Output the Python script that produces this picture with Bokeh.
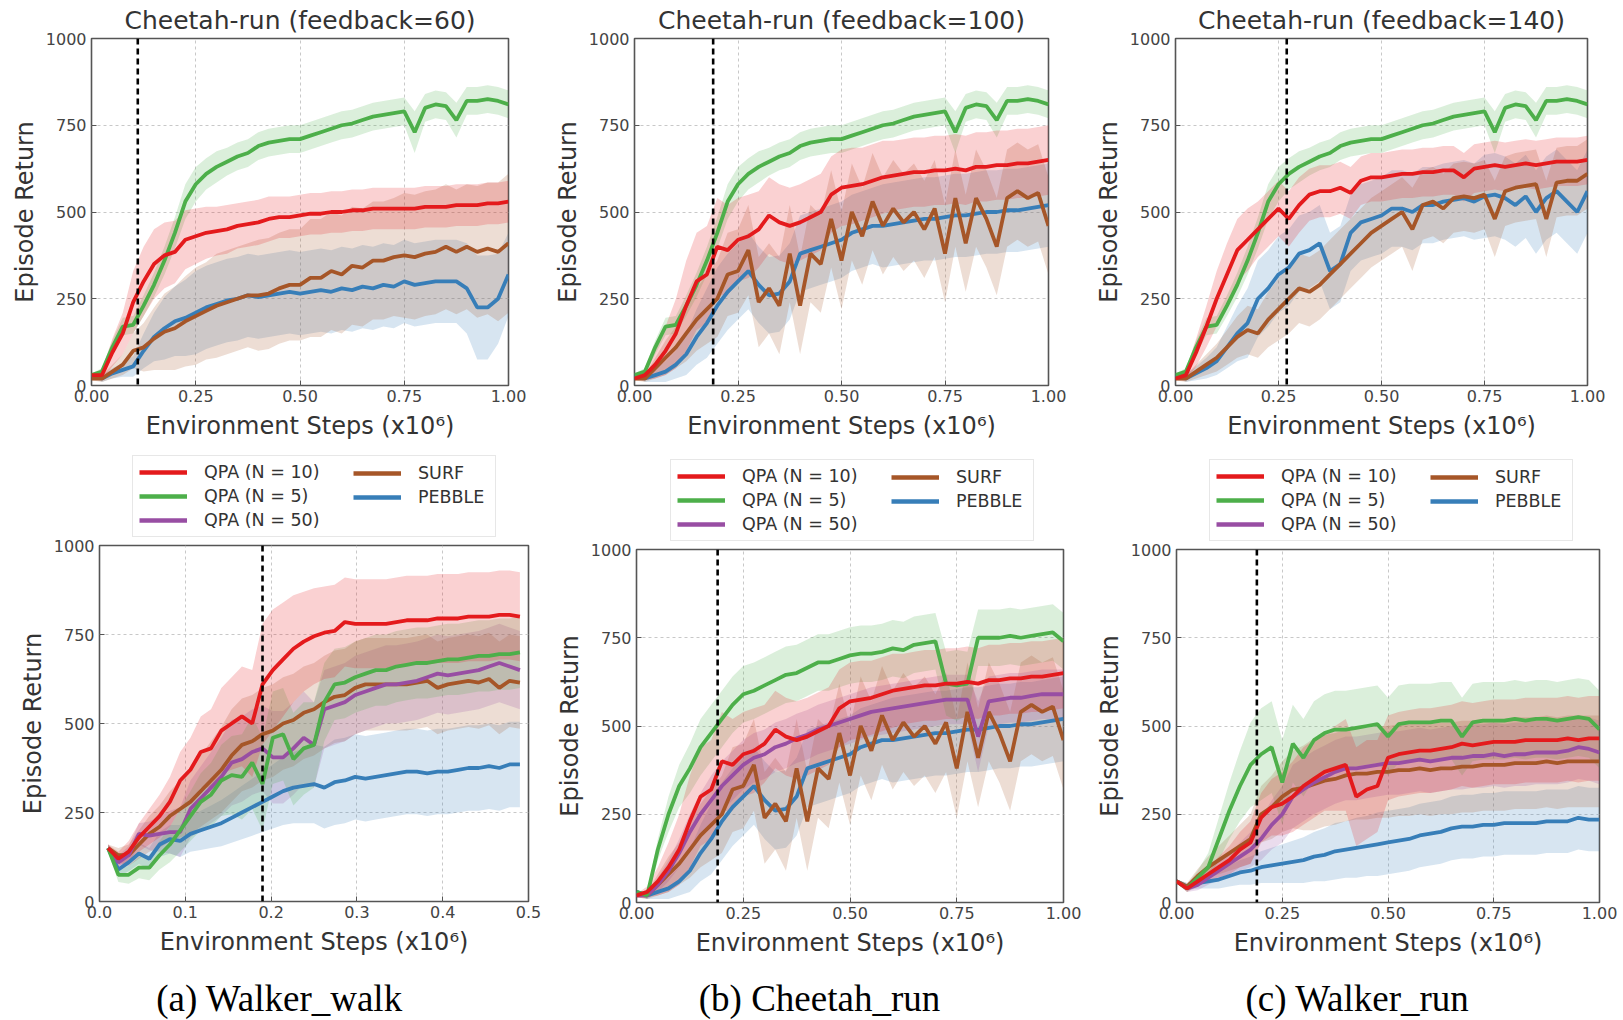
import numpy as np
from bokeh.plotting import figure
from bokeh.models import Span, Legend, LegendItem, Label, Range1d, FixedTicker, NumeralTickFormatter
from bokeh.layouts import column, row
from bokeh.embed import file_html
from bokeh.resources import INLINE

# ---------------- data ----------------
X_STEPS = [0.0, 0.025, 0.05, 0.075, 0.1, 0.125, 0.15, 0.175, 0.2, 0.225, 0.25, 0.275, 0.3, 0.325,
           0.35, 0.375, 0.4, 0.425, 0.45, 0.475, 0.5, 0.525, 0.55, 0.575, 0.6, 0.625, 0.65, 0.675,
           0.7, 0.725, 0.75, 0.775, 0.8, 0.825, 0.85, 0.875, 0.9, 0.925, 0.95, 0.975, 1.0]
X_WALK = [0.010, 0.022, 0.034, 0.046, 0.058, 0.070, 0.082, 0.094, 0.106, 0.118, 0.130, 0.142,
          0.154, 0.166, 0.178, 0.190, 0.202, 0.214, 0.226, 0.238, 0.250, 0.262, 0.274, 0.286,
          0.298, 0.310, 0.322, 0.334, 0.346, 0.358, 0.370, 0.382, 0.394, 0.406, 0.418, 0.430,
          0.442, 0.454, 0.466, 0.478, 0.490]

# Cheetah-run, QPA (N=5) (same in the three feedback panels)
CH_GREEN = [30, 40, 110, 170, 175, 230, 290, 360, 440, 530, 580, 610, 630, 645, 660, 670, 690, 700, 705, 710,
            710, 720, 730, 740, 750, 755, 765, 775, 780, 785, 790, 730, 800, 810, 805, 765, 820, 820, 825, 820, 810]
CH_GREEN_SD = [5, 10, 20, 25, 25, 30, 35, 40, 45, 50, 50, 45, 45, 40, 40, 40, 40, 40, 40, 40,
               40, 40, 40, 40, 40, 40, 40, 40, 40, 40, 40, 60, 40, 40, 40, 50, 40, 40, 40, 40, 40]
# feedback = 60
C60_RED = [30, 30, 95, 150, 240, 300, 350, 375, 385, 420, 430, 440, 445, 450, 460, 465, 470, 480, 485, 485,
           490, 495, 495, 500, 500, 505, 505, 510, 510, 510, 510, 510, 515, 515, 515, 520, 520, 520, 525, 525, 530]
C60_RED_SD = [5, 15, 40, 60, 90, 100, 100, 95, 90, 85, 80, 75, 70, 70, 65, 65, 65, 65, 60, 60,
              60, 60, 60, 60, 60, 60, 60, 60, 60, 60, 60, 60, 60, 60, 60, 60, 60, 60, 60, 60, 60]
C60_SURF = [20, 20, 40, 60, 100, 110, 135, 155, 165, 185, 200, 215, 230, 240, 250, 260, 260, 265, 280, 290,
            290, 310, 310, 330, 320, 345, 340, 360, 360, 370, 375, 370, 380, 385, 400, 385, 400, 385, 395, 385, 410]
C60_SURF_SD = [5, 10, 20, 30, 50, 70, 90, 110, 120, 130, 140, 140, 150, 150, 150, 150, 160, 160, 160, 160,
               160, 170, 170, 170, 170, 170, 170, 170, 170, 170, 180, 180, 180, 180, 180, 180, 180, 190, 190, 200, 200]
C60_PEBBLE = [30, 20, 35, 45, 55, 100, 140, 165, 185, 195, 210, 225, 235, 245, 250, 260, 255, 260, 265, 270,
              265, 270, 275, 270, 280, 275, 285, 280, 290, 285, 300, 290, 295, 300, 300, 300, 280, 225, 225, 250, 320]
C60_PEBBLE_SD = [5, 10, 15, 20, 30, 50, 70, 90, 100, 110, 120, 120, 120, 120, 120, 120, 120, 120, 120, 120,
                 120, 120, 120, 120, 120, 120, 120, 120, 120, 120, 120, 120, 120, 120, 120, 120, 130, 150, 150, 130, 120]
# feedback = 100
C100_RED = [20, 30, 60, 100, 150, 230, 300, 320, 400, 390, 420, 430, 450, 490, 470, 460, 470, 485, 500, 550,
            570, 575, 580, 590, 600, 605, 610, 615, 615, 620, 620, 625, 620, 630, 630, 635, 635, 640, 640, 645, 650]
C100_RED_SD = [5, 15, 40, 70, 100, 130, 140, 140, 140, 130, 120, 120, 110, 110, 110, 110, 110, 110, 110, 110,
               110, 110, 105, 105, 105, 100, 100, 100, 100, 100, 100, 100, 100, 100, 100, 100, 100, 100, 100, 100, 100]
C100_SURF = [20, 20, 50, 80, 110, 150, 190, 220, 250, 320, 330, 390, 240, 280, 230, 380, 230, 380, 350, 480,
             360, 500, 430, 530, 460, 510, 470, 500, 450, 510, 380, 540, 410, 540, 480, 400, 540, 560, 540, 555, 460]
C100_SURF_SD = [5, 10, 30, 50, 60, 80, 90, 100, 110, 120, 120, 130, 130, 130, 140, 140, 140, 140, 140, 140,
                140, 140, 140, 140, 140, 140, 140, 140, 140, 140, 140, 140, 140, 140, 140, 140, 140, 140, 140, 140, 140]
C100_PEBBLE = [30, 20, 30, 40, 60, 90, 140, 180, 230, 270, 300, 330, 290, 260, 265, 300, 380, 390, 400, 410,
               420, 440, 450, 460, 460, 465, 470, 475, 480, 480, 485, 490, 490, 495, 500, 500, 505, 505, 510, 515, 520]
C100_PEBBLE_SD = [5, 10, 20, 30, 40, 60, 80, 100, 110, 110, 110, 110, 110, 110, 110, 110, 110, 110, 110, 110,
                  110, 110, 110, 110, 120, 120, 120, 120, 120, 120, 120, 120, 120, 120, 120, 120, 120, 120, 120, 120, 120]
# feedback = 140
C140_RED = [20, 30, 95, 170, 250, 320, 390, 420, 450, 480, 510, 480, 520, 550, 560, 560, 570, 555, 590, 600,
            600, 605, 610, 610, 615, 615, 620, 620, 600, 625, 630, 635, 630, 635, 640, 635, 640, 645, 645, 645, 650]
C140_RED_SD = [5, 15, 40, 60, 80, 90, 90, 90, 80, 80, 80, 80, 80, 75, 75, 75, 75, 75, 70, 70,
               70, 70, 70, 70, 70, 70, 70, 70, 70, 70, 70, 70, 70, 70, 70, 70, 70, 70, 70, 70, 70]
C140_SURF = [20, 20, 40, 60, 80, 110, 140, 160, 150, 190, 220, 250, 280, 270, 290, 320, 350, 380, 410, 440,
             460, 480, 500, 450, 520, 530, 510, 540, 545, 540, 550, 480, 560, 570, 575, 580, 480, 585, 590, 590, 610]
C140_SURF_SD = [5, 10, 20, 30, 40, 50, 60, 70, 70, 80, 90, 100, 100, 100, 100, 100, 100, 100, 100, 100,
                100, 100, 100, 120, 100, 100, 100, 100, 100, 100, 100, 110, 100, 100, 100, 100, 110, 100, 100, 100, 100]
C140_PEBBLE = [30, 20, 35, 50, 70, 110, 150, 180, 250, 280, 320, 340, 380, 390, 410, 330, 350, 440, 470, 480,
               490, 510, 510, 500, 520, 520, 530, 535, 540, 530, 545, 550, 540, 520, 545, 500, 540, 560, 530, 500, 560]
C140_PEBBLE_SD = [5, 10, 20, 30, 40, 60, 80, 100, 110, 110, 110, 110, 110, 110, 110, 110, 110, 110, 110, 110,
                  110, 110, 110, 110, 110, 110, 110, 110, 110, 110, 120, 120, 120, 120, 120, 120, 120, 120, 120, 120, 120]

# Walker_walk
WW_RED = [150, 120, 140, 180, 210, 240, 280, 340, 370, 420, 430, 480, 500, 520, 500, 610, 650, 680, 710, 730,
          745, 755, 760, 785, 780, 780, 780, 780, 785, 790, 790, 790, 795, 795, 795, 800, 800, 800, 805, 805, 800]
WW_RED_SD = [10, 20, 30, 40, 50, 60, 70, 80, 90, 100, 110, 120, 130, 140, 150, 170, 170, 160, 150, 140,
             135, 130, 130, 125, 125, 125, 125, 125, 125, 125, 125, 125, 125, 125, 125, 125, 125, 125, 125, 125, 125]
WW_GREEN = [150, 75, 75, 95, 95, 130, 160, 200, 240, 280, 300, 340, 355, 350, 390, 330, 460, 470, 400, 430,
            440, 560, 610, 615, 630, 640, 650, 650, 660, 665, 670, 670, 675, 680, 680, 685, 690, 690, 695, 695, 700]
WW_GREEN_SD = [10, 20, 25, 30, 35, 40, 50, 60, 70, 80, 90, 100, 110, 120, 130, 130, 130, 130, 130, 130,
               120, 110, 100, 100, 100, 100, 100, 100, 100, 100, 100, 100, 100, 100, 100, 100, 100, 100, 100, 100, 100]
WW_PURPLE = [150, 110, 130, 190, 185, 190, 195, 195, 260, 290, 320, 350, 390, 400, 420, 430, 405, 405, 430, 460,
             440, 540, 550, 560, 580, 590, 600, 610, 610, 615, 620, 630, 640, 635, 640, 645, 650, 660, 670, 660, 650]
WW_PURPLE_SD = [10, 20, 25, 30, 40, 50, 60, 70, 80, 90, 100, 110, 120, 120, 120, 120, 130, 130, 130, 130,
                120, 110, 110, 110, 110, 110, 110, 110, 110, 110, 110, 110, 110, 110, 110, 110, 110, 110, 110, 110, 110]
WW_SURF = [150, 130, 130, 160, 190, 210, 240, 260, 280, 310, 340, 370, 410, 440, 450, 470, 480, 500, 510, 530,
           540, 560, 575, 580, 600, 610, 610, 610, 610, 610, 615, 620, 600, 610, 615, 620, 615, 625, 600, 620, 615]
WW_SURF_SD = [10, 20, 30, 40, 50, 60, 70, 80, 90, 100, 110, 120, 130, 130, 130, 130, 130, 130, 130, 130,
              130, 130, 130, 130, 130, 130, 130, 130, 130, 130, 130, 130, 130, 130, 130, 130, 130, 130, 130, 130, 130]
WW_PEBBLE = [150, 90, 110, 135, 120, 160, 175, 170, 190, 200, 210, 220, 235, 250, 265, 280, 295, 310, 320, 325,
             330, 320, 335, 340, 350, 345, 350, 355, 360, 365, 365, 360, 365, 365, 370, 375, 375, 380, 375, 385, 385]
WW_PEBBLE_SD = [10, 20, 25, 30, 30, 35, 40, 45, 50, 55, 60, 65, 70, 75, 80, 85, 90, 95, 100, 105,
                110, 115, 120, 120, 120, 120, 120, 120, 120, 120, 120, 120, 120, 120, 120, 120, 120, 120, 120, 120, 120]

# Cheetah_run (bottom)
CR_GREEN = [30, 20, 150, 250, 330, 380, 440, 480, 520, 560, 590, 600, 615, 630, 645, 650, 665, 680, 680, 690,
            700, 705, 705, 710, 720, 715, 730, 735, 740, 620, 615, 620, 750, 750, 750, 755, 750, 755, 760, 765, 740]
CR_GREEN_SD = [5, 10, 30, 50, 60, 70, 80, 80, 80, 80, 80, 80, 80, 80, 80, 80, 80, 80, 80, 80,
               80, 80, 80, 80, 80, 80, 80, 80, 80, 90, 100, 90, 80, 80, 80, 80, 80, 80, 80, 80, 80]
CR_PURPLE = [20, 20, 50, 90, 140, 200, 250, 290, 330, 360, 390, 410, 420, 440, 450, 465, 475, 490, 500, 510,
             520, 530, 540, 545, 550, 555, 560, 565, 570, 575, 575, 575, 470, 570, 575, 580, 580, 585, 590, 590, 590]
CR_PURPLE_SD = [5, 10, 20, 30, 40, 50, 60, 70, 70, 70, 70, 70, 70, 70, 70, 70, 70, 70, 70, 70,
                70, 70, 70, 70, 70, 70, 70, 70, 70, 70, 70, 70, 100, 70, 70, 70, 70, 70, 70, 70, 70]

# Walker_run
WR_GREEN = [60, 40, 70, 100, 180, 260, 330, 390, 420, 440, 340, 450, 410, 460, 480, 490, 490, 495, 500, 505,
            470, 505, 510, 510, 510, 515, 515, 470, 510, 515, 515, 515, 520, 515, 520, 520, 515, 520, 525, 520, 490]
WR_GREEN_SD = [5, 10, 20, 40, 60, 80, 100, 120, 130, 130, 120, 110, 110, 110, 110, 110, 110, 110, 110, 110,
               110, 110, 110, 110, 110, 110, 110, 110, 110, 110, 110, 110, 110, 110, 110, 110, 110, 110, 110, 110, 110]
WR_RED = [60, 40, 60, 80, 100, 120, 150, 170, 240, 270, 280, 300, 330, 350, 370, 380, 390, 300, 320, 330,
          410, 420, 425, 430, 430, 435, 440, 450, 445, 450, 455, 455, 455, 460, 460, 460, 460, 465, 460, 465, 465]
WR_RED_SD = [5, 10, 15, 20, 30, 40, 50, 60, 70, 80, 90, 100, 110, 110, 110, 120, 130, 140, 140, 130,
             120, 120, 120, 120, 120, 120, 120, 120, 120, 120, 120, 120, 120, 120, 120, 120, 120, 120, 120, 120, 120]
WR_PURPLE = [60, 40, 50, 70, 90, 110, 130, 150, 180, 220, 250, 300, 320, 340, 355, 370, 380, 380, 385, 390,
             395, 395, 400, 405, 400, 405, 410, 410, 415, 415, 420, 415, 420, 420, 425, 425, 425, 430, 440, 435, 425]
WR_PURPLE_SD = [5, 10, 15, 20, 25, 30, 40, 50, 60, 70, 80, 90, 90, 90, 90, 90, 90, 90, 90, 90,
                90, 90, 90, 90, 90, 90, 90, 90, 90, 90, 90, 90, 90, 90, 90, 90, 90, 90, 90, 90, 90]
WR_SURF = [60, 45, 75, 100, 120, 140, 160, 180, 250, 270, 300, 320, 325, 335, 345, 350, 360, 365, 365, 370,
           370, 375, 375, 380, 375, 380, 380, 385, 385, 390, 390, 390, 395, 395, 395, 400, 395, 400, 400, 400, 400]
WR_SURF_SD = [5, 10, 20, 30, 40, 50, 60, 70, 80, 90, 100, 110, 120, 130, 130, 130, 130, 130, 130, 130,
              130, 130, 130, 130, 130, 130, 130, 130, 130, 130, 130, 130, 130, 130, 130, 130, 130, 130, 130, 130, 130]
WR_PEBBLE = [60, 45, 55, 60, 65, 75, 85, 90, 100, 105, 110, 115, 120, 130, 135, 145, 150, 155, 160, 165,
             170, 175, 180, 190, 195, 200, 210, 215, 215, 220, 220, 225, 225, 225, 225, 230, 230, 230, 240, 235, 235]
WR_PEBBLE_SD = [5, 10, 15, 20, 25, 30, 35, 40, 45, 50, 55, 60, 65, 70, 75, 80, 80, 85, 85, 90,
                90, 90, 90, 90, 90, 90, 90, 90, 90, 90, 90, 90, 90, 90, 90, 90, 90, 90, 90, 90, 90]

LABELS = {"red": "QPA (N = 10)", "green": "QPA (N = 5)", "purple": "QPA (N = 50)",
          "brown": "SURF", "blue": "PEBBLE"}
COLORS = {"red": "#e41a1c", "green": "#4daf4a", "purple": "#984ea3",
          "brown": "#a65628", "blue": "#377eb8"}

TITLES = ["Cheetah-run (feedback=60)", "Cheetah-run (feedback=100)", "Cheetah-run (feedback=140)"]
CAPTIONS = ["(a) Walker_walk", "(b) Cheetah_run", "(c) Walker_run"]
QUERY_STEP = [0.111, 0.19, 0.27, 0.19, 0.19, 0.19]

TOP_SERIES = [
    {"red": (C60_RED, C60_RED_SD), "green": (CH_GREEN, CH_GREEN_SD),
     "brown": (C60_SURF, C60_SURF_SD), "blue": (C60_PEBBLE, C60_PEBBLE_SD)},
    {"red": (C100_RED, C100_RED_SD), "green": (CH_GREEN, CH_GREEN_SD),
     "brown": (C100_SURF, C100_SURF_SD), "blue": (C100_PEBBLE, C100_PEBBLE_SD)},
    {"red": (C140_RED, C140_RED_SD), "green": (CH_GREEN, CH_GREEN_SD),
     "brown": (C140_SURF, C140_SURF_SD), "blue": (C140_PEBBLE, C140_PEBBLE_SD)},
]
BOTTOM_SERIES = [
    {"red": (WW_RED, WW_RED_SD), "green": (WW_GREEN, WW_GREEN_SD), "purple": (WW_PURPLE, WW_PURPLE_SD),
     "brown": (WW_SURF, WW_SURF_SD), "blue": (WW_PEBBLE, WW_PEBBLE_SD)},
    {"red": (C100_RED, C100_RED_SD), "green": (CR_GREEN, CR_GREEN_SD), "purple": (CR_PURPLE, CR_PURPLE_SD),
     "brown": (C100_SURF, C100_SURF_SD), "blue": (C100_PEBBLE, C100_PEBBLE_SD)},
    {"red": (WR_RED, WR_RED_SD), "green": (WR_GREEN, WR_GREEN_SD), "purple": (WR_PURPLE, WR_PURPLE_SD),
     "brown": (WR_SURF, WR_SURF_SD), "blue": (WR_PEBBLE, WR_PEBBLE_SD)},
]

FONT = "DejaVu Sans"
DRAW_ORDER = ["blue", "brown", "purple", "green", "red"]
LEGEND_COL1 = ["red", "green", "purple"]
LEGEND_COL2 = ["brown", "blue"]
LINE_W = 3.8


def bare_figure(width, height):
    p = figure(width=width, height=height, min_border=0, min_border_left=0, min_border_right=0,
               min_border_top=0, min_border_bottom=0, x_range=Range1d(0, 1), y_range=Range1d(0, 1),
               x_axis_location=None, y_axis_location=None,
               output_backend="svg", toolbar_location=None)
    p.grid.visible = False
    p.outline_line_color = None
    p.background_fill_color = "white"
    p.border_fill_color = "white"
    return p


def style_legend(lg):
    lg.label_text_font = FONT
    lg.label_text_font_size = "17.5px"
    lg.label_text_color = "#333333"
    lg.glyph_width = 48
    lg.glyph_height = 20
    lg.label_height = 20
    lg.label_standoff = 17
    lg.spacing = 4
    lg.margin = 0


def legend_figure(width, height, x_left):
    # frame of this figure is aligned (by the column layout) with the frame of the plot below it
    p = bare_figure(width, height)
    nan = np.array([np.nan])
    proxies = {k: p.line(x=nan, y=nan, line_color=COLORS[k], line_width=LINE_W + 0.8)
               for k in LEGEND_COL1 + LEGEND_COL2}
    lg1 = Legend(items=[LegendItem(label=LABELS[k], renderers=[proxies[k]]) for k in LEGEND_COL1],
                 location=(x_left, 1), padding=6, label_width=285,
                 border_line_color="#d0d0d0", border_line_width=1,
                 background_fill_color="white", background_fill_alpha=1.0)
    style_legend(lg1)
    lg2 = Legend(items=[LegendItem(label=LABELS[k], renderers=[proxies[k]]) for k in LEGEND_COL2],
                 location=(x_left + 221, 31), padding=0, border_line_color=None,
                 background_fill_alpha=0.0)
    style_legend(lg2)
    p.add_layout(lg1)
    p.add_layout(lg2)
    return p


def caption_figure(width, height, x_center, y_mid, text):
    p = bare_figure(width, height)
    p.add_layout(Label(x=x_center, y=y_mid, x_units="screen", y_units="screen", text=text,
                       text_align="center", text_baseline="middle",
                       text_font="Liberation Serif", text_font_size="37px", text_color="black"))
    return p


def make_panel(width, height, left, top, fw, fh, xs, xmax, xticks, xfmt, series, query,
               tick_standoff, xlabel_standoff, title=None):
    p = figure(width=width, height=height, min_border_left=left, min_border_top=top,
               min_border_right=width - left - fw, min_border_bottom=height - top - fh,
               x_range=Range1d(0, xmax), y_range=Range1d(0, 1000),
               output_backend="svg", toolbar_location=None)
    p.background_fill_color = "white"
    p.border_fill_color = "white"
    p.outline_line_color = "#555555"
    p.outline_line_width = 1.6
    p.outline_line_alpha = 1.0
    for ax in (p.xaxis[0], p.yaxis[0]):
        ax.axis_line_color = None
        ax.major_tick_in = 5
        ax.major_tick_out = 0
        ax.minor_tick_line_color = None
        ax.major_tick_line_color = "#555555"
        ax.major_label_text_font = FONT
        ax.major_label_text_font_size = "16px"
        ax.major_label_text_color = "#444444"
        ax.axis_label_text_font = FONT
        ax.axis_label_text_font_size = "24px"
        ax.axis_label_text_font_style = "normal"
        ax.axis_label_text_color = "#333333"
    p.yaxis.major_label_standoff = 5
    p.yaxis.axis_label_standoff = 4
    p.xaxis.major_label_standoff = tick_standoff
    p.xaxis.axis_label_standoff = xlabel_standoff
    p.xaxis.ticker = FixedTicker(ticks=xticks)
    p.xaxis.formatter = NumeralTickFormatter(format=xfmt)
    p.yaxis.ticker = FixedTicker(ticks=[0, 250, 500, 750, 1000])
    p.xaxis.axis_label = "Environment Steps (x10\u2076)"
    p.yaxis.axis_label = "Episode Return"
    for g in (p.xgrid[0], p.ygrid[0]):
        g.grid_line_color = "#c8c8c8"
        g.grid_line_dash = "3 3"
        g.grid_line_width = 1

    for key in DRAW_ORDER:
        if key not in series:
            continue
        mean, sd = series[key]
        lo = [m - s for m, s in zip(mean, sd)]
        hi = [m + s for m, s in zip(mean, sd)]
        p.varea(x=xs, y1=lo, y2=hi, fill_color=COLORS[key], fill_alpha=0.2)
    for key in DRAW_ORDER:
        if key not in series:
            continue
        mean, _ = series[key]
        p.line(xs, mean, line_color=COLORS[key], line_width=LINE_W)

    p.add_layout(Span(location=query, dimension="height", line_color="black",
                      line_dash="6 4", line_width=2.6))

    if title:
        p.title.text = title
        p.title.text_font = FONT
        p.title.text_font_size = "25px"
        p.title.text_font_style = "normal"
        p.title.text_color = "#333333"
        p.title.align = "center"
        p.title.standoff = 7
    return p


FIG_W = [550, 541, 532]
TOP_H = 442
TOP_LEFT = [91, 80, 80]
TOP_FW = [417, 418, 416]
BOT_LEFT = [99, 86, 85]
BOT_FW = [429, 427, 423]
BOT_FRAME_TOP = [545, 549, 549]
BOT_FH = [356, 353, 353]
LEGEND_X = [33, 34, 33]      # legend box left, measured from the frame's left edge
CAPTION_X = [180, 183, 181]  # caption centre, measured from the frame's left edge
PLOT_BOTTOM = 975
PAGE_H = 1020

tops = []
for i in range(3):
    tops.append(make_panel(FIG_W[i], TOP_H, TOP_LEFT[i], 38, TOP_FW[i], 348, X_STEPS, 1.0,
                           [0, 0.25, 0.5, 0.75, 1.0], "0.00", TOP_SERIES[i], QUERY_STEP[i],
                           4, 7, title=TITLES[i]))
cols = []
for i in range(3):
    if i == 0:
        xs, xmax, ticks, fmt = X_WALK, 0.5, [0, 0.1, 0.2, 0.3, 0.4, 0.5], "0.0"
    else:
        xs, xmax, ticks, fmt = X_STEPS, 1.0, [0, 0.25, 0.5, 0.75, 1.0], "0.00"
    plot_top = 7
    leg_h = BOT_FRAME_TOP[i] - TOP_H - plot_top
    plot_h = PLOT_BOTTOM - (BOT_FRAME_TOP[i] - plot_top)
    cap_h = PAGE_H - PLOT_BOTTOM
    lf = legend_figure(FIG_W[i], leg_h, LEGEND_X[i])
    pf = make_panel(FIG_W[i], plot_h, BOT_LEFT[i], plot_top, BOT_FW[i], BOT_FH[i], xs, xmax,
                    ticks, fmt, BOTTOM_SERIES[i], QUERY_STEP[3 + i], 4, 7)
    cf = caption_figure(FIG_W[i], cap_h, CAPTION_X[i], 22, CAPTIONS[i])
    cols.append(column(lf, pf, cf))

layout = column(row(*tops), row(*cols))
open("out.html", "w").write(file_html(layout, INLINE))
